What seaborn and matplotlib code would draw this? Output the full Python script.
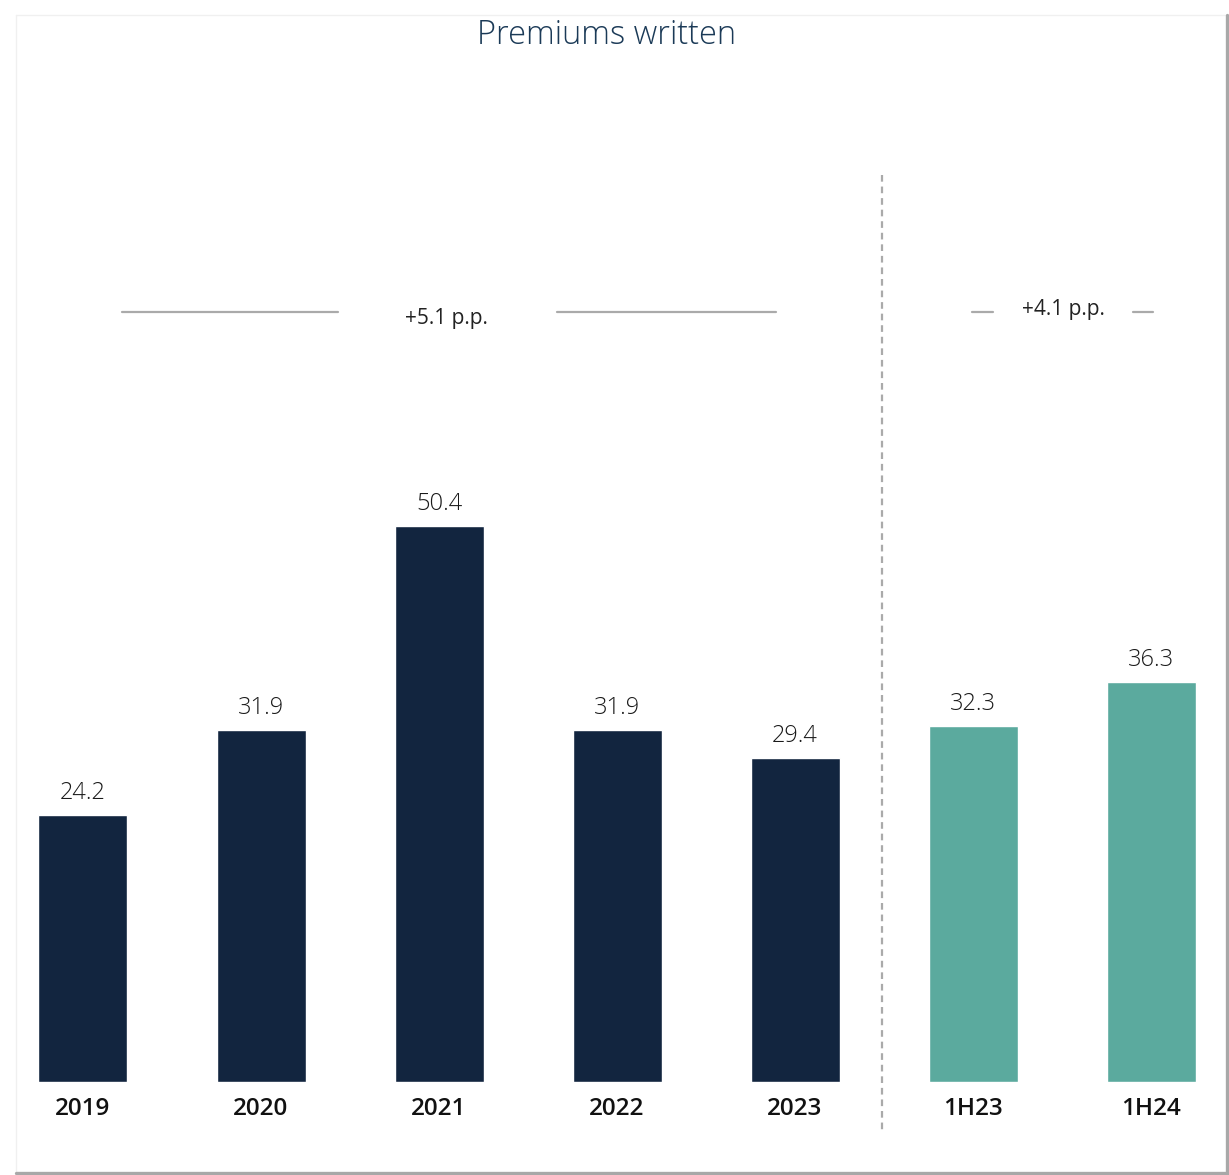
import matplotlib
matplotlib.use("Agg")
import matplotlib.pyplot as plt
import seaborn as sns
from matplotlib.lines import Line2D

categories = ["2019", "2020", "2021", "2022", "2023", "1H23", "1H24"]
values = [24.2, 31.9, 50.4, 31.9, 29.4, 32.3, 36.3]
value_labels = ["24.2", "31.9", "50.4", "31.9", "29.4", "32.3", "36.3"]
bar_colors = ["#12253F"] * 5 + ["#5BAA9E"] * 2
title = "Premiums written"
growth_labels = ["+5.1 p.p.", "+4.1 p.p."]

sns.set_theme(style="white")
plt.rcParams["font.family"] = ["Open Sans", "DejaVu Sans"]

W, H = 1229, 1175
fig = plt.figure(figsize=(W / 100, H / 100), dpi=100)
fig.patch.set_facecolor("white")

base_px = 1082
ax = fig.add_axes([0, (H - base_px) / H, 1, base_px / H])
px_per_unit = 11.03
x0_px, step_px = 83, 178

sns.barplot(x=categories, y=values, hue=categories, palette=bar_colors,
            width=0.5, legend=False, ax=ax, saturation=1)

ax.set_xlim((0 - x0_px) / step_px, (W - x0_px) / step_px)
ax.set_ylim(0, base_px / px_per_unit)
for s in ax.spines.values():
    s.set_visible(False)
ax.set_yticks([])
ax.set_xlabel("")
ax.set_ylabel("")
ax.tick_params(axis="x", length=0, pad=11, labelsize=17.5, labelcolor="#111111")
for t in ax.get_xticklabels():
    t.set_fontweight("semibold")

for i, (v, lab) in enumerate(zip(values, value_labels)):
    ax.annotate(lab, (i, v), xytext=(0, 7), textcoords="offset points",
                ha="center", va="bottom", fontsize=17, color="#1a1a1a",
                fontweight="light")

def dx(p):
    return (p - x0_px) / step_px

def dy(p):
    return (base_px - p) / px_per_unit

# dashed divider
ax.plot([dx(882), dx(882)], [dy(175), dy(1130)], ls=(0, (3, 2.2)), lw=1.6,
        color="#AAAAAA", clip_on=False)

# growth brackets
gc = "#AAAAAA"
ax.plot([dx(122), dx(338)], [dy(312)] * 2, color=gc, lw=1.6)
ax.plot([dx(557), dx(776)], [dy(312)] * 2, color=gc, lw=1.6)
ax.text(dx(446), dy(318), growth_labels[0], ha="center", va="center",
        fontsize=15, color="#222222")
ax.plot([dx(972), dx(993)], [dy(312)] * 2, color=gc, lw=1.6)
ax.plot([dx(1133), dx(1153)], [dy(312)] * 2, color=gc, lw=1.6)
ax.text(dx(1063), dy(309), growth_labels[1], ha="center", va="center",
        fontsize=15, color="#222222")

fig.text(607 / W, 1 - 35 / H, title, ha="center", va="center", fontsize=23.5,
         color="#1B3A57", fontweight="light")

# frame
tf = fig.transFigure
def fx(p):
    return p / W
def fy(p):
    return 1 - p / H
fig.add_artist(Line2D([fx(16), fx(16)], [fy(15), fy(1172)], color="#F0F0F0", lw=1, transform=tf))
fig.add_artist(Line2D([fx(16), fx(1225)], [fy(15), fy(15)], color="#F0F0F0", lw=1, transform=tf))
fig.add_artist(Line2D([fx(1226.5), fx(1226.5)], [fy(15), fy(1173)], color="#A8A8A8", lw=2.4, transform=tf))
fig.add_artist(Line2D([fx(16), fx(1228)], [fy(1172.5), fy(1172.5)], color="#A8A8A8", lw=2.4, transform=tf))

fig.savefig("out.png", dpi=100, facecolor="white")
